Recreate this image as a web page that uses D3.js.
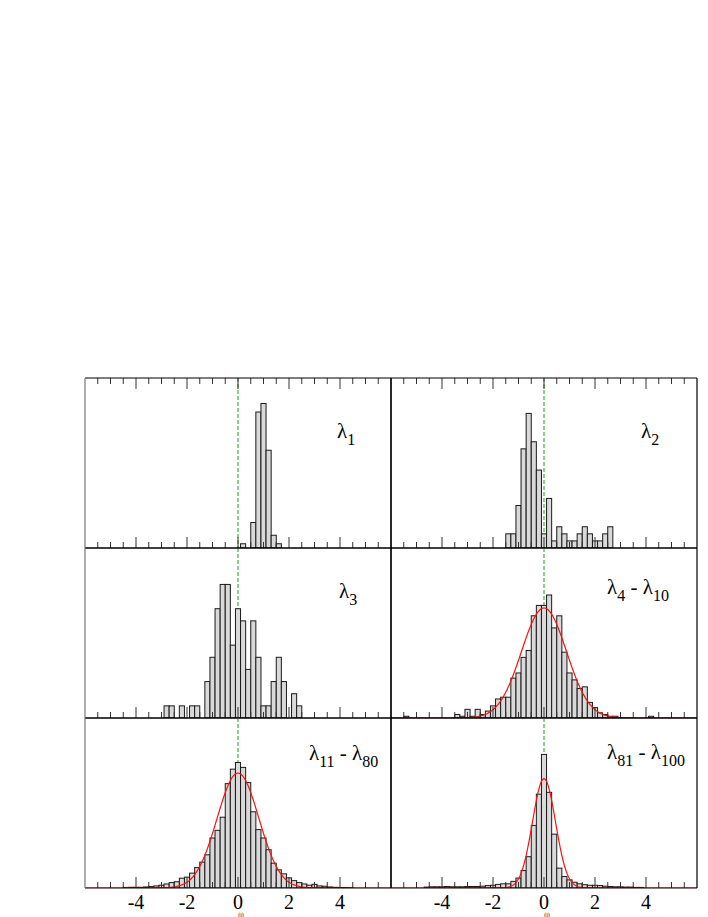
<!DOCTYPE html>
<html><head><meta charset="utf-8">
<script src="https://cdn.jsdelivr.net/npm/d3@7"></script>
<style>body{margin:0;background:#fff}svg{display:block}</style>
</head><body>
<svg id="chart" width="708" height="917"></svg>
<script>
// ---------------- data ----------------
const binWidth = 0.2;
const xDomain = [-6, 6];
const majorTicks = [-4, -2, 0, 2, 4];
const minorTicks = [-5.5,-5,-4.5,-3.5,-3,-2.5,-1.5,-1,-0.5,0.5,1,1.5,2.5,3,3.5,4.5,5,5.5];
const tickLabels = ["-4", "-2", "0", "2", "4"];

// panel labels: [first index, second index or null]
const labelFrom = ["1", "2", "3", "4", "11", "81"];
const labelTo   = [null, null, null, "10", "80", "100"];

// first bin centre of each histogram, and bin counts
const binStart = [0.2, -1.4, -2.8, -5.4, -4.4, -4.6];
const counts1 = [1,0,6,32,34,23,3,1];
const counts2 = [2,2,6,14,19,15,11,2,7,1,3,2,1,1,2,3,2,1,1,2,3];
const counts3 = [1,1,0,1,0,1,1,0,3,5,9,11,11,6,9,8,4,8,5,1,1,3,5,3,0,2,1];
const counts4to10 = [1,0,0,0,0,0,0,0,0,0,2,1,5,1,5,2,4,7,11,12,12,23,26,35,39,59,65,65,71,52,59,38,26,22,17,18,9,6,3,2,1,1,0,0,0,0,0,0,1];
const counts11to80 = [3,4,4,4,6,8,12,16,23,31,36,56,62,85,117,148,190,286,330,405,597,680,718,690,603,436,334,286,219,142,104,81,58,42,31,23,16,21,12,10,6,4,3,3,2];
const counts81to100 = [3,4,4,4,5,4,4,4,5,5,5,6,8,9,12,14,14,22,33,58,104,208,312,444,318,179,66,38,27,19,14,11,9,9,8,6,5,4,4,3,3,2,2];
const allCounts = [counts1, counts2, counts3, counts4to10, counts11to80, counts81to100];

// y-axis maximum (probability density) for each panel
const yMax = [2.0, 1.2, 0.7, 0.7, 0.7, 1.4];

// gaussian fits (null = none): peak density and sigma, centred at 0
const fitPeak  = [null, null, null, 0.453, 0.473, 0.90];
const fitSigma = [null, null, null, 0.88, 0.82, 0.45];

// ---------------- layout ----------------
const colX = [85, 391], panelW = 306;
const rowY = [378, 548, 718], panelH = 170;
const labelPos = [[337, 438], [641, 438], [339, 598], [607, 594], [309, 760], [607, 759]];

const svg = d3.select("#chart");
const serif = "Liberation Serif, Times New Roman, Times, serif";

allCounts.forEach((counts, i) => {
  const col = i % 2, row = Math.floor(i / 2);
  const x0 = colX[col], y0 = rowY[row];
  const xs = d3.scaleLinear().domain(xDomain).range([x0, x0 + panelW]);
  const ys = d3.scaleLinear().domain([0, yMax[i]]).range([y0 + panelH, y0]);
  const total = d3.sum(counts);
  const bins = counts.map((c, k) => ({centre: binStart[i] + k * binWidth, dens: c / (total * binWidth)}))
                     .filter(d => d.dens > 0);

  const g = svg.append("g");
  const clipId = "clip" + i;
  g.append("clipPath").attr("id", clipId).append("rect")
    .attr("x", x0).attr("y", y0).attr("width", panelW).attr("height", panelH);
  const inner = g.append("g").attr("clip-path", `url(#${clipId})`);

  // zero line
  inner.append("line")
    .attr("x1", xs(0)).attr("x2", xs(0)).attr("y1", y0).attr("y2", y0 + panelH)
    .attr("stroke", "#4cb84c").attr("stroke-width", 1.3).attr("stroke-dasharray", "4,2");

  // bars
  inner.selectAll("rect.bar").data(bins).join("rect").attr("class", "bar")
    .attr("x", d => xs(d.centre - binWidth / 2))
    .attr("width", d => xs(d.centre + binWidth / 2) - xs(d.centre - binWidth / 2))
    .attr("y", d => ys(d.dens))
    .attr("height", d => ys(0) - ys(d.dens))
    .attr("fill", "#d9d9d9").attr("stroke", "#1a1a1a").attr("stroke-width", 1);

  // ticks (bottom for all, top for first row)
  const tickG = g.append("g").attr("stroke", "#333").attr("stroke-width", 1);
  const drawTicks = (vals, len) => {
    vals.forEach(v => {
      tickG.append("line").attr("x1", xs(v)).attr("x2", xs(v))
        .attr("y1", y0 + panelH).attr("y2", y0 + panelH - len);
      if (row === 0) tickG.append("line").attr("x1", xs(v)).attr("x2", xs(v))
        .attr("y1", y0).attr("y2", y0 + len);
    });
  };
  drawTicks(majorTicks, 11);
  drawTicks(minorTicks, 6);

  // frame
  g.append("line").attr("x1", x0).attr("x2", x0 + panelW).attr("y1", y0).attr("y2", y0)
    .attr("stroke", "#000").attr("stroke-width", 1.2);
  g.append("line").attr("x1", x0).attr("x2", x0 + panelW).attr("y1", y0 + panelH).attr("y2", y0 + panelH)
    .attr("stroke", "#000").attr("stroke-width", 1.2);
  g.append("line").attr("x1", x0 + panelW).attr("x2", x0 + panelW).attr("y1", y0).attr("y2", y0 + panelH)
    .attr("stroke", "#000").attr("stroke-width", 1.2);
  g.append("line").attr("x1", x0).attr("x2", x0).attr("y1", y0).attr("y2", y0 + panelH)
    .attr("stroke", col === 0 ? "#777" : "#000").attr("stroke-width", 1.2);

  // gaussian fit
  if (fitPeak[i] !== null) {
    const pts = d3.range(xDomain[0], xDomain[1] + 1e-9, 0.02)
      .map(u => [u, fitPeak[i] * Math.exp(-u * u / (2 * fitSigma[i] * fitSigma[i]))]);
    inner.append("path").datum(pts)
      .attr("d", d3.line().x(d => xs(d[0])).y(d => ys(d[1])))
      .attr("fill", "none").attr("stroke", "#ff1010").attr("stroke-width", 1.2);
  }

  // label
  const t = g.append("text").attr("x", labelPos[i][0]).attr("y", labelPos[i][1])
    .attr("font-family", serif).attr("font-size", 21).attr("fill", "#000");
  t.append("tspan").text("λ");
  t.append("tspan").attr("font-size", 16).attr("dy", 7).text(labelFrom[i]);
  if (labelTo[i] !== null) {
    t.append("tspan").attr("dy", -7).text(" - λ");
    t.append("tspan").attr("font-size", 16).attr("dy", 7).text(labelTo[i]);
  }

  // x tick labels on bottom row
  if (row === 2) {
    g.selectAll("text.tl").data(majorTicks).join("text").attr("class", "tl")
      .attr("x", d => xs(d)).attr("y", 909).attr("text-anchor", "middle")
      .attr("font-family", serif).attr("font-size", 20).attr("fill", "#000")
      .text((d, k) => tickLabels[k]);
    g.append("text").attr("x", xs(0) + 3).attr("y", 916.5).attr("text-anchor", "middle")
      .attr("font-family", serif).attr("font-size", 6).attr("fill", "#000").text("(i)");
  }
});
</script>
</body></html>
